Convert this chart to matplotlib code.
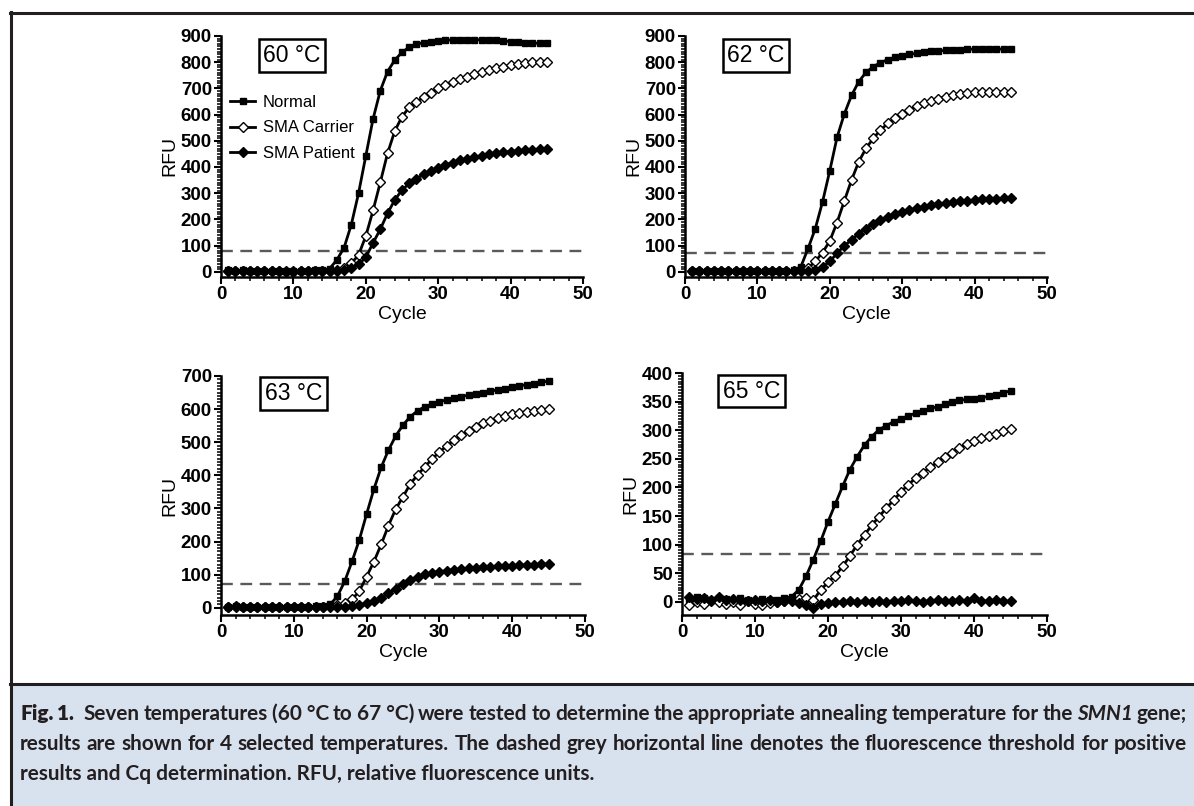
import matplotlib
matplotlib.use('Agg')
import matplotlib.pyplot as plt
from matplotlib.lines import Line2D
from matplotlib.patches import Rectangle

# qPCR amplification curves, cycles 1..45
cycles = list(range(1, 46))

normal_60 = [5, 4, 5, 4, 3, 4, 3, 4, 3, 2, 3, 4, 5, 7, 12, 45, 92, 180, 300, 442, 583, 691, 764, 808, 838,
             857, 868, 875, 879, 882, 884, 885, 886, 886, 886, 885, 884, 883, 881, 879, 877, 875, 873, 872, 873]
carrier_60 = [3, 2, 3, 2, 2, 3, 2, 2, 1, 1, 2, 2, 3, 3, 4, 8, 16, 32, 64, 136, 234, 341, 452, 537, 592,
              628, 648, 667, 684, 700, 712, 724, 735, 745, 754, 762, 770, 777, 783, 788, 793, 796, 799, 800, 800]
patient_60 = [2, 1, 2, 1, 1, 2, 1, 1, 0, 0, 1, 1, 2, 2, 2, 3, 6, 14, 28, 55, 110, 162, 223, 274, 312,
              337, 356, 372, 386, 398, 408, 417, 425, 432, 438, 443, 448, 452, 456, 459, 462, 464, 466, 467, 468]

normal_62 = [3, 2, 3, 2, 3, 2, 2, 3, 2, 2, 2, 3, 3, 4, 6, 19, 89, 165, 267, 386, 513, 602, 673, 726, 761,
             783, 798, 810, 818, 825, 830, 834, 838, 841, 843, 845, 847, 848, 849, 850, 850, 850, 850, 850, 850]
carrier_62 = [3, 2, 2, 3, 2, 2, 3, 2, 2, 3, 2, 2, 3, 3, 4, 6, 14, 40, 73, 118, 188, 270, 350, 420, 471,
              509, 541, 566, 586, 603, 617, 633, 643, 652, 661, 668, 673, 678, 682, 685, 686, 687, 687, 687, 687]
patient_62 = [2, 3, 2, 2, 3, 2, 2, 2, 3, 2, 2, 2, 2, 3, 3, 3, 4, 7, 18, 40, 70, 100, 121, 146, 165,
              182, 197, 210, 219, 229, 235, 243, 248, 253, 258, 262, 266, 269, 271, 274, 276, 277, 279, 280, 281]

normal_63 = [3, 4, 3, 2, 3, 2, 3, 2, 2, 3, 2, 3, 4, 6, 10, 35, 80, 140, 205, 283, 358, 424, 476, 519, 552,
             577, 595, 607, 615, 622, 628, 633, 638, 642, 646, 650, 654, 658, 662, 666, 670, 674, 677, 681, 685]
carrier_63 = [2, 3, 2, 2, 3, 2, 2, 3, 2, 2, 2, 3, 3, 3, 4, 8, 14, 25, 50, 94, 139, 191, 248, 298, 335,
              374, 401, 426, 449, 471, 488, 506, 522, 535, 547, 557, 565, 572, 578, 584, 589, 592, 595, 598, 600]
patient_63 = [3, 4, 2, 3, 2, 2, 3, 2, 2, 2, 3, 2, 2, 3, 2, 3, 3, 4, 8, 14, 20, 30, 44, 58, 72,
              84, 94, 101, 106, 109, 112, 115, 117, 119, 121, 123, 124, 125, 126, 127, 128, 129, 130, 131, 132]

normal_65 = [5, 8, 6, 4, 7, 5, 3, 6, 4, 2, 5, 3, 4, 6, 9, 21, 45, 74, 106, 140, 171, 202, 231, 254, 274,
             289, 301, 308, 315, 320, 325, 330, 334, 338, 341, 345, 349, 352, 354, 355, 357, 359, 362, 365, 369]
carrier_65 = [-5, 0, -3, 2, -1, -4, 0, -5, 1, -3, -5, -2, 0, 2, 3, 5, 6, 3, 21, 34, 46, 62, 80, 100, 117,
              134, 149, 164, 178, 192, 205, 216, 226, 235, 244, 253, 261, 269, 276, 282, 286, 290, 294, 298, 302]
patient_65 = [8, 5, 6, 3, 8, 4, 5, 3, 2, 4, 2, 3, 0, 2, 1, -2, -5, -10, -4, -2, 0, -1, 1, 0, 2,
              -1, 1, 0, 2, 1, 3, 1, 0, 2, 3, 1, 2, 4, 1, 6, 2, 1, 3, 1, 1]

temps = ['60 °C', '62 °C', '63 °C', '65 °C']
thresholds = [80, 73, 73, 84]
y_max = [900, 900, 700, 400]
y_step = [100, 100, 100, 50]
series_names = ['Normal', 'SMA Carrier', 'SMA Patient']

W, H = 1194, 806
fig = plt.figure(figsize=(W / 100, H / 100), dpi=100)
plt.rcParams['font.family'] = ['Liberation Sans', 'DejaVu Sans']


def add_axes_px(x0, y0, x1, y1):
    return fig.add_axes([x0 / W, 1 - y1 / H, (x1 - x0) / W, (y1 - y0) / H])


# pixel boxes of the four panels (left, top, right, bottom)
boxes = [(221, 36, 583, 277), (685, 36, 1047, 277), (221, 376, 585, 615), (682, 373, 1047, 615)]
y_bottom = [-20, -20, -22, -23]
temp_pos = [(0.196, 0.919), (0.196, 0.919), (0.199, 0.927), (0.19, 0.924)]
data = [(normal_60, carrier_60, patient_60), (normal_62, carrier_62, patient_62),
        (normal_63, carrier_63, patient_63), (normal_65, carrier_65, patient_65)]

for i in range(4):
    ax = add_axes_px(*boxes[i])
    normal, carrier, patient = data[i]
    ax.axhline(thresholds[i], color='#5a5a5a', lw=1.7, dashes=(5, 3.2), zorder=1)
    ax.plot(cycles, normal, color='black', lw=2, marker='s', ms=4, mfc='black', mec='black',
            label=series_names[0], zorder=3, clip_on=False)
    ax.plot(cycles, carrier, color='black', lw=2, marker='D', ms=4.8, mfc='white', mec='black', mew=1.0,
            label=series_names[1], zorder=3, clip_on=False)
    ax.plot(cycles, patient, color='black', lw=2, marker='D', ms=4.8, mfc='black', mec='black',
            label=series_names[2], zorder=4, clip_on=False)

    ax.set_xlim(0, 50)
    ax.set_ylim(y_bottom[i], y_max[i])
    for s in ['top', 'right']:
        ax.spines[s].set_visible(False)
    for s in ['left', 'bottom']:
        ax.spines[s].set_linewidth(1.8)

    ax.set_xticks(range(0, 51, 10))
    ax.set_xticklabels([str(v) for v in range(0, 51, 10)], fontweight='bold')
    ax.set_xticks(range(0, 51, 2), minor=True)
    yt = list(range(0, y_max[i] + 1, y_step[i]))
    ax.set_yticks(yt)
    ax.set_yticklabels([str(v) for v in yt], fontweight='bold')
    ax.set_yticks(range(0, y_max[i] + 1, 10 if y_step[i] == 100 else 5), minor=True)
    ax.tick_params(which='major', length=5, width=1.5, labelsize=13.5, pad=1.5)
    ax.tick_params(which='minor', length=3, width=1.1)
    ax.set_ylabel('RFU', fontsize=14, labelpad=2)
    ax.set_xlabel('Cycle', fontsize=14, labelpad=2)

    ax.text(temp_pos[i][0], temp_pos[i][1], temps[i], transform=ax.transAxes, fontsize=16.5,
            ha='center', va='center',
            bbox=dict(boxstyle='square,pad=0.2', fc='white', ec='black', lw=1.8))

    if i == 0:
        ax.legend(loc='upper left', bbox_to_anchor=(0.025, 0.755), frameon=False, fontsize=12,
                  handlelength=1.5, handletextpad=0.45, borderaxespad=0, borderpad=0, labelspacing=0.62)

# figure frame and caption panel
frame_color = '#231f20'
fig.add_artist(Rectangle((12 / W, 0), 1 - 12 / W, 1 - 685 / H, transform=fig.transFigure,
                         facecolor='#d8e1ee', edgecolor='none', zorder=0))
fig.add_artist(Line2D([11 / W, 11 / W], [0, 1 - 12 / H], transform=fig.transFigure, color=frame_color, lw=2.2))
fig.add_artist(Line2D([10 / W, 1], [1 - 13 / H, 1 - 13 / H], transform=fig.transFigure, color=frame_color, lw=2.2))
fig.add_artist(Line2D([10 / W, 1], [1 - 684 / H, 1 - 684 / H], transform=fig.transFigure, color=frame_color, lw=2.2))

cap_font = ['Lato', 'DejaVu Sans']
cap_color = '#231f20'
renderer = fig.canvas.get_renderer()

text2 = 'results are shown for 4 selected temperatures. The dashed grey horizontal line denotes the fluorescence threshold for positive'

# fit caption size so line 2 fills the caption width with normal spacing
probe = fig.text(0, 0, text2, fontsize=13, fontweight='bold', family=cap_font)
cap_size = 13 * 1164 / probe.get_window_extent(renderer).width
probe.remove()


def justified_line(words, y_px, x0=20, x1=1187, extra=None):
    extra = extra or {}
    arts = []
    for txt, weight, style in words:
        t = fig.text(0, 1 - y_px / H, txt, fontsize=cap_size, fontweight=weight, fontstyle=style,
                     family=cap_font, color=cap_color, va='baseline')
        arts.append(t)
    widths = [t.get_window_extent(renderer).width for t in arts]
    gap = (x1 - x0 - sum(widths) - sum(extra.values())) / (len(arts) - 1)
    x = x0
    for k, (t, w) in enumerate(zip(arts, widths)):
        t.set_x(x / W)
        x += w + gap + extra.get(k, 0)


line1 = [('Fig.', 'heavy', 'normal'), ('1.', 'heavy', 'normal')]
line1 += [(w, 'bold', 'normal') for w in
          'Seven temperatures (60\u00a0°C to 67\u00a0°C) were tested to determine the appropriate annealing temperature for the'.split(' ')]
line1 += [('SMN1', 'bold', 'italic'), ('gene;', 'bold', 'normal')]
line2 = [(w, 'bold', 'normal') for w in text2.split(' ')]

justified_line(line1, 720, extra={1: 5})
justified_line(line2, 750)
fig.text(20 / W, 1 - 780 / H, 'results and Cq determination. RFU, relative fluorescence units.',
         fontsize=cap_size, fontweight='bold', family=cap_font, color=cap_color, va='baseline')

fig.savefig('out.png', dpi=100)
